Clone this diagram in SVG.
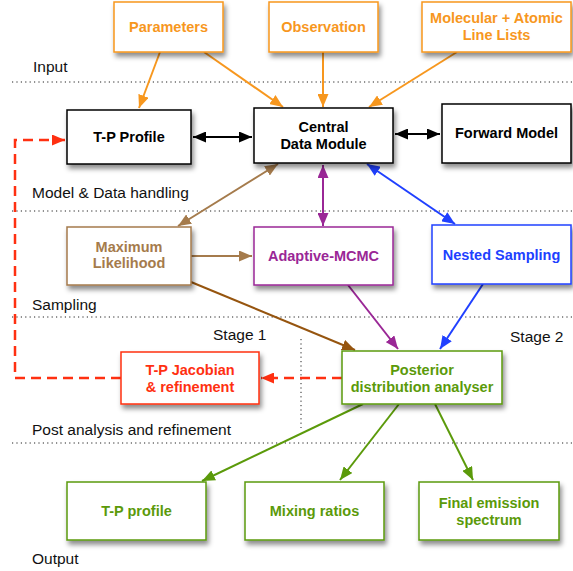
<svg xmlns="http://www.w3.org/2000/svg" width="573" height="571" viewBox="0 0 573 571">
<defs>
<filter id="sh" x="-20%" y="-20%" width="150%" height="160%">
<feDropShadow dx="2" dy="4" stdDeviation="2.5" flood-color="#000" flood-opacity="0.45"/>
</filter>
<marker id="m-or" viewBox="0 0 13 11" refX="13" refY="5.5" markerWidth="13" markerHeight="11" markerUnits="userSpaceOnUse" orient="auto-start-reverse"><path d="M0,0 L13,5.5 L0,11 z" fill="#F7971E"/></marker>
<marker id="m-bk" viewBox="0 0 13 11" refX="13" refY="5.5" markerWidth="13" markerHeight="11" markerUnits="userSpaceOnUse" orient="auto-start-reverse"><path d="M0,0 L13,5.5 L0,11 z" fill="#000"/></marker>
<marker id="m-br" viewBox="0 0 13 11" refX="13" refY="5.5" markerWidth="13" markerHeight="11" markerUnits="userSpaceOnUse" orient="auto-start-reverse"><path d="M0,0 L13,5.5 L0,11 z" fill="#A57B4C"/></marker>
<marker id="m-db" viewBox="0 0 13 11" refX="13" refY="5.5" markerWidth="13" markerHeight="11" markerUnits="userSpaceOnUse" orient="auto-start-reverse"><path d="M0,0 L13,5.5 L0,11 z" fill="#96550F"/></marker>
<marker id="m-pu" viewBox="0 0 13 11" refX="13" refY="5.5" markerWidth="13" markerHeight="11" markerUnits="userSpaceOnUse" orient="auto-start-reverse"><path d="M0,0 L13,5.5 L0,11 z" fill="#9A2796"/></marker>
<marker id="m-bl" viewBox="0 0 13 11" refX="13" refY="5.5" markerWidth="13" markerHeight="11" markerUnits="userSpaceOnUse" orient="auto-start-reverse"><path d="M0,0 L13,5.5 L0,11 z" fill="#2040FF"/></marker>
<marker id="m-rd" viewBox="0 0 13 11" refX="13" refY="5.5" markerWidth="13" markerHeight="11" markerUnits="userSpaceOnUse" orient="auto-start-reverse"><path d="M0,0 L13,5.5 L0,11 z" fill="#FF3011"/></marker>
<marker id="m-gr" viewBox="0 0 13 11" refX="13" refY="5.5" markerWidth="13" markerHeight="11" markerUnits="userSpaceOnUse" orient="auto-start-reverse"><path d="M0,0 L13,5.5 L0,11 z" fill="#5B9A0A"/></marker>
</defs>
<style>
.box{fill:#fff;stroke-width:1.5;filter:url(#sh)}
.t{font-family:"Liberation Sans",Arial,sans-serif;font-weight:bold;font-size:14.5px;text-anchor:middle}
.lab{font-family:"Liberation Sans",Arial,sans-serif;font-size:15.5px;fill:#111}
.dot{stroke:#222;stroke-width:1;stroke-dasharray:1.2 3.2;fill:none}
.c{fill:none;stroke-width:2}
.or{stroke:#F7971E}.ort{fill:#F7971E}
.bk{stroke:#000}.bkt{fill:#000}
.br{stroke:#A57B4C}.brt{fill:#A57B4C}
.db{stroke:#96550F}
.pu{stroke:#9A2796}.put{fill:#9A2796}
.bl{stroke:#2040FF}.blt{fill:#2040FF}
.rd{stroke:#FF3011}.rdt{fill:#FF3011}
.gr{stroke:#5B9A0A}.grt{fill:#5B9A0A}
.dash{stroke-dasharray:10 6;stroke-width:2.5}
</style>

<g id="layers">
<line class="dot" x1="12" y1="82" x2="573" y2="82"/>
<line class="dot" x1="12" y1="211" x2="573" y2="211"/>
<line class="dot" x1="12" y1="317" x2="573" y2="317"/>
<line class="dot" x1="12" y1="443" x2="573" y2="443"/>
<line class="dot" x1="301" y1="339" x2="301" y2="428"/>
<text class="lab" x="33" y="72">Input</text>
<text class="lab" x="32" y="198">Model &amp; Data handling</text>
<text class="lab" x="32" y="310">Sampling</text>
<text class="lab" x="32" y="435">Post analysis and refinement</text>
<text class="lab" x="32" y="564">Output</text>
<text class="lab" x="213" y="340">Stage 1</text>
<text class="lab" x="510" y="342">Stage 2</text>
</g>

<g id="connectors">
<line class="c or" x1="160" y1="52" x2="139" y2="108" marker-end="url(#m-or)"/>
<line class="c or" x1="204" y1="52" x2="283" y2="107" marker-end="url(#m-or)"/>
<line class="c or" x1="323" y1="52" x2="323" y2="107" marker-end="url(#m-or)"/>
<line class="c or" x1="457" y1="52" x2="369" y2="107" marker-end="url(#m-or)"/>
<line class="c bk" x1="193" y1="137" x2="252" y2="137" marker-start="url(#m-bk)" marker-end="url(#m-bk)"/>
<line class="c bk" x1="395" y1="134" x2="440" y2="134" marker-start="url(#m-bk)" marker-end="url(#m-bk)"/>
<line class="c br" x1="178" y1="226" x2="278" y2="164" marker-start="url(#m-br)" marker-end="url(#m-br)"/>
<line class="c pu" x1="323" y1="165" x2="323" y2="226" marker-start="url(#m-pu)" marker-end="url(#m-pu)"/>
<line class="c bl" x1="367" y1="164" x2="455" y2="224" marker-start="url(#m-bl)" marker-end="url(#m-bl)"/>
<line class="c br" x1="191" y1="256" x2="252" y2="256" marker-end="url(#m-br)"/>
<line class="c db" x1="191" y1="282" x2="355" y2="350" marker-end="url(#m-db)"/>
<line class="c pu" x1="348" y1="285" x2="398" y2="349" marker-end="url(#m-pu)"/>
<line class="c bl" x1="483" y1="284" x2="440" y2="349" marker-end="url(#m-bl)"/>
<line class="c rd dash" x1="342" y1="378" x2="261" y2="378" marker-end="url(#m-rd)"/>
<path class="c rd dash" d="M121,378 H15 V140 H65" marker-end="url(#m-rd)"/>
<line class="c gr" x1="363" y1="404" x2="202" y2="481" marker-end="url(#m-gr)"/>
<line class="c gr" x1="399" y1="404" x2="340" y2="480" marker-end="url(#m-gr)"/>
<line class="c gr" x1="435" y1="404" x2="473" y2="480" marker-end="url(#m-gr)"/>
</g>

<g id="parameters"><rect class="box or" x="114" y="2" width="109" height="50"/><text class="t ort" x="168.5" y="32">Parameters</text></g>
<g id="observation"><rect class="box or" x="269" y="2" width="109" height="50"/><text class="t ort" x="323.5" y="32">Observation</text></g>
<g id="linelists"><rect class="box or" x="422" y="2" width="149" height="50"/><text class="t ort" x="496.5" y="23">Molecular + Atomic</text><text class="t ort" x="496.5" y="40">Line Lists</text></g>

<g id="tp-profile"><rect class="box bk" x="67" y="110" width="124" height="54"/><text class="t bkt" x="129" y="142">T-P Profile</text></g>
<g id="central"><rect class="box bk" x="254" y="108" width="139" height="55"/><text class="t bkt" x="323.5" y="132">Central</text><text class="t bkt" x="323.5" y="149">Data Module</text></g>
<g id="forward"><rect class="box bk" x="442" y="104" width="129" height="59"/><text class="t bkt" x="506.5" y="138">Forward Model</text></g>

<g id="maxlike"><rect class="box br" x="67" y="227" width="124" height="58"/><text class="t brt" x="129" y="252">Maximum</text><text class="t brt" x="129" y="268">Likelihood</text></g>
<g id="mcmc"><rect class="box pu" x="254" y="227" width="139" height="58"/><text class="t put" x="323.5" y="261">Adaptive-MCMC</text></g>
<g id="nested"><rect class="box bl" x="432" y="225" width="139" height="59"/><text class="t blt" x="501.5" y="260">Nested Sampling</text></g>

<g id="jacobian"><rect class="box rd" x="121" y="352" width="138" height="52"/><text class="t rdt" x="190" y="375">T-P Jacobian</text><text class="t rdt" x="190" y="392">&amp; refinement</text></g>
<g id="posterior"><rect class="box gr" x="342" y="351" width="160" height="53"/><text class="t grt" x="422" y="375">Posterior</text><text class="t grt" x="422" y="392">distribution analyser</text></g>

<g id="out-tp"><rect class="box gr" x="67" y="482" width="139" height="58"/><text class="t grt" x="136.5" y="516">T-P profile</text></g>
<g id="out-mix"><rect class="box gr" x="245" y="482" width="139" height="58"/><text class="t grt" x="314.5" y="516">Mixing ratios</text></g>
<g id="out-final"><rect class="box gr" x="419" y="482" width="140" height="58"/><text class="t grt" x="489" y="508">Final emission</text><text class="t grt" x="489" y="525">spectrum</text></g>
</svg>
